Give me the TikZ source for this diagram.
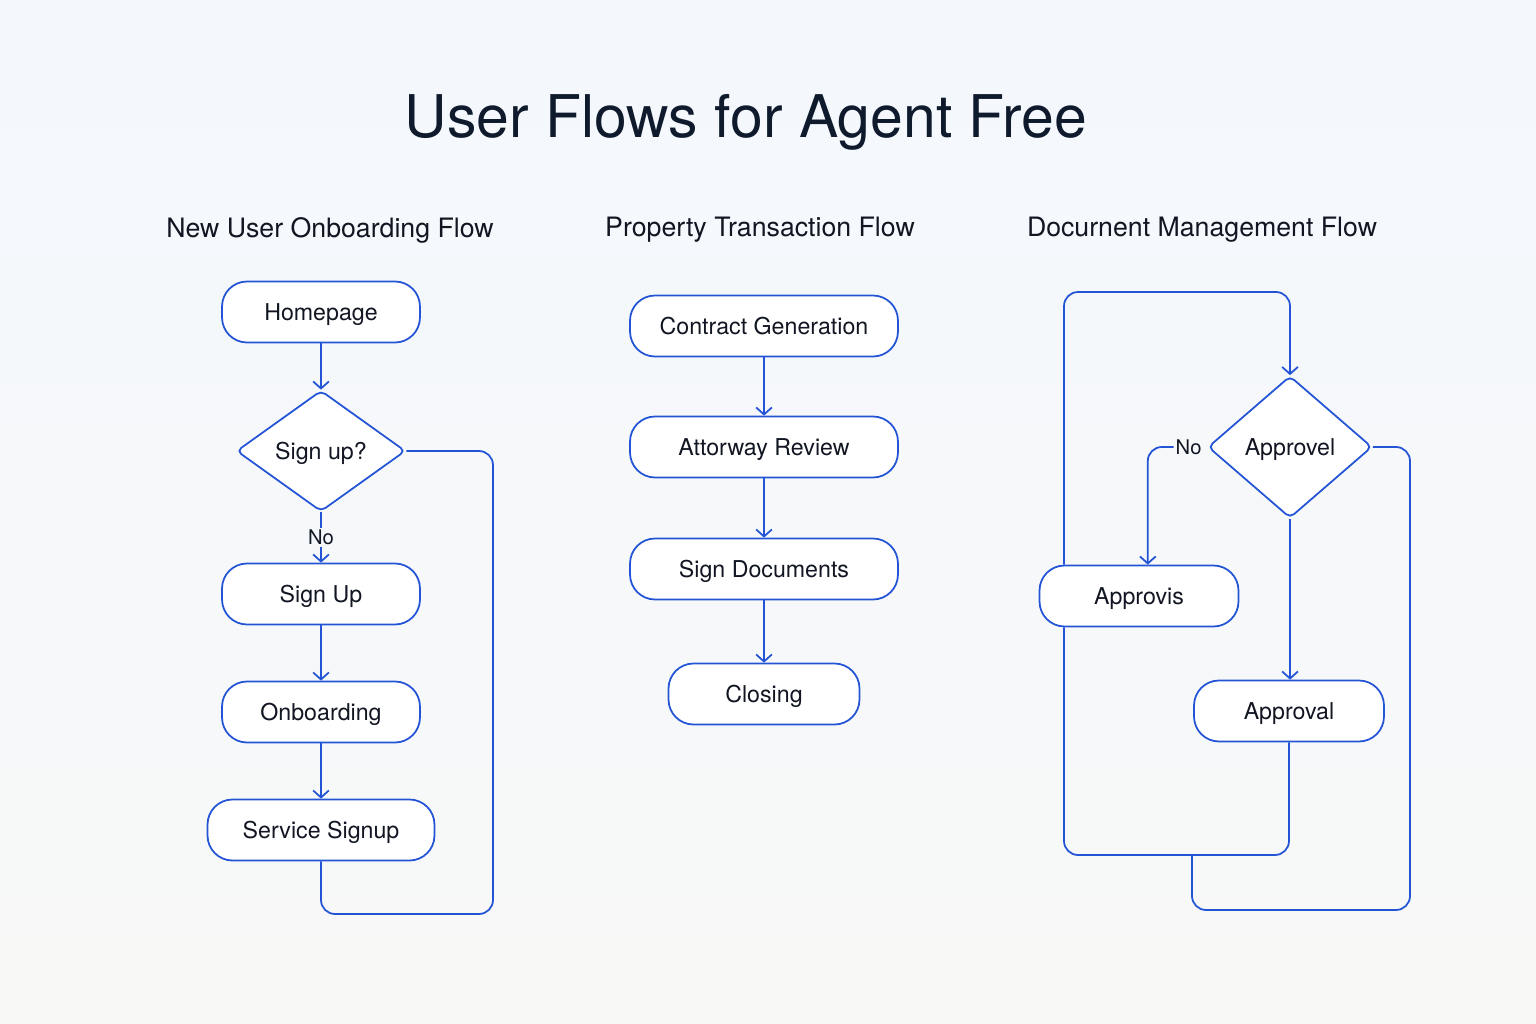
\documentclass[tikz,border=0pt]{standalone}
\usepackage{fontspec}
\setmainfont{TeX Gyre Heros}
\usepackage{tikz}
\usetikzlibrary{shapes.geometric}
\usetikzlibrary{arrows.meta}
\usetikzlibrary{positioning}

\definecolor{bgtop}{HTML}{F4F8FD}
\definecolor{bgbot}{HTML}{F8F8F7}
\definecolor{flowblue}{HTML}{2454D6}
\definecolor{titleink}{HTML}{0F1B2D}
\definecolor{textink}{HTML}{111622}

\tikzset{
  box/.style={draw=flowblue, line width=1pt, fill=white, rounded corners=0.5cm,
    minimum height=1.22cm, text=textink, text height=9.4pt, text depth=0pt,
    font=\fontsize{13.2}{15}\selectfont},
  decision/.style={diamond, draw=flowblue, line width=1pt, fill=white, rounded corners=3pt,
    inner sep=0pt, text=textink, text height=9.4pt, text depth=0pt,
    font=\fontsize{13.2}{15}\selectfont},
  header/.style={text=textink, font=\fontsize{15.2}{18}\selectfont},
  flowline/.style={draw=flowblue, line width=1pt, rounded corners=8pt},
  arrowline/.style={flowline, -{Straight Barb[length=4pt,width=9pt,line width=1pt]}},
  nolabel/.style={text=textink, font=\fontsize{11.5}{13}\selectfont, inner sep=1pt}
}

\begin{document}
\begin{tikzpicture}[x=0.02cm,y=-0.02cm]
    % 背景
    \shade[top color=bgtop, bottom color=bgbot] (0,0) rectangle (1536,1024);
    \useasboundingbox (0,0) rectangle (1536,1024);

    \node[text=titleink, font=\fontsize{33.5}{40}\selectfont] (title) at (746,122) {User Flows for Agent Free};

    \node[header] (headA) at (330,230) {New User Onboarding Flow};
    \node[header] (headB) at (760,230) {Property Transaction Flow};
    \node[header] (headC) at (1202,230) {Docurnent Management Flow};

    % 左侧流程
    \node[box, minimum width=3.96cm] (home) at (321,312) {Homepage};
    \node[decision, minimum width=3.38cm, minimum height=2.42cm] (signq) at (321,451) {Sign up?};
    \node[box, minimum width=3.96cm] (signup) at (321,594) {Sign Up};
    \node[box, minimum width=3.96cm] (onboard) at (321,712) {Onboarding};
    \node[box, minimum width=4.54cm] (service) at (321,830) {Service Signup};
    \coordinate (loopA) at (493,914);

    \draw[arrowline] (home) -- (signq);
    \draw[arrowline] (signq) -- node[nolabel, fill=bgtop] {No} (signup);
    \draw[arrowline] (signup) -- (onboard);
    \draw[arrowline] (onboard) -- (service);
    \draw[flowline] (signq.east) -| (loopA) -| (service.south);

    % 中间流程
    \node[box, minimum width=5.36cm] (contract) at (764,326) {Contract Generation};
    \node[box, minimum width=5.36cm] (review) at (764,447) {Attorway Review};
    \node[box, minimum width=5.36cm] (signdoc) at (764,569) {Sign Documents};
    \node[box, minimum width=3.82cm] (closing) at (764,694) {Closing};

    \draw[arrowline] (contract) -- (review);
    \draw[arrowline] (review) -- (signdoc);
    \draw[arrowline] (signdoc) -- (closing);

    % 右侧流程
    \node[decision, minimum width=3.28cm, minimum height=2.84cm] (approvel) at (1290,447) {Approvel};
    \node[nolabel, left=2pt of approvel.west] (noR) {No};
    \node[box, minimum width=3.98cm] (approvis) at (1139,596) {Approvis};
    \node[box, minimum width=3.80cm] (approval) at (1289,711) {Approval};
    \coordinate (topR) at (1064,292);
    \coordinate (botR) at (1064,855);
    \coordinate (joinR) at (1192,855);
    \coordinate (outR) at (1410,910);

    \draw[arrowline] (approvis.north -| topR) -- (topR) -| (approvel.north);
    \draw[arrowline] (noR.west) -| ([xshift=5]approvis.north);
    \draw[arrowline] (approvel.south) -- (approvel.south |- approval.north);
    \draw[flowline] (approvis.south -| botR) -- (botR) -| (approval.south);
    \draw[flowline] (approvel.east) -| (outR) -| (joinR);

\end{tikzpicture}
\end{document}
